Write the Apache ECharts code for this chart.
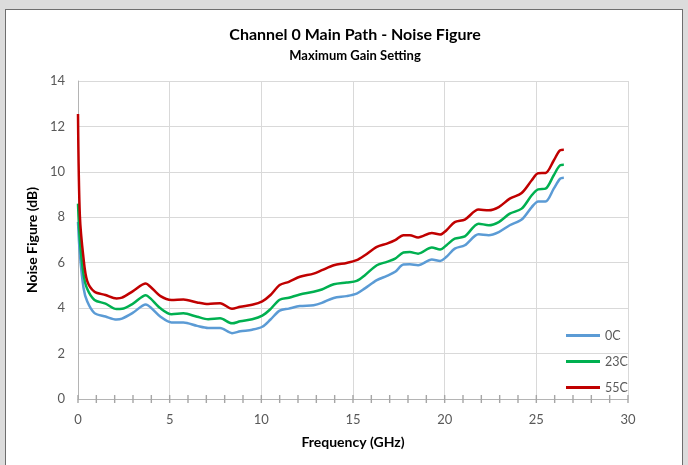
<!DOCTYPE html>
<html>
<head>
<meta charset="utf-8">
<script src="https://cdn.jsdelivr.net/npm/echarts@6/dist/echarts.min.js"></script>
<style>
  html, body { margin: 0; padding: 0; background: #dcdcdc; overflow: hidden; }
  #wrap { position: relative; width: 688px; height: 465px; }
  #frame {
    position: absolute; left: 5px; top: 9px; width: 678px; height: 470px;
    background: #ffffff; border: 1.5px solid #6e6e6e; box-sizing: border-box;
  }
  #chart { position: absolute; left: 0; top: 0; width: 688px; height: 465px; }
</style>
</head>
<body>
<div id="wrap">
  <div id="frame"></div>
  <div id="chart"></div>
</div>
<script>
// Frequency sweep points (GHz)
const freq = [0, 0.1, 0.3, 0.5, 0.9, 1.5, 2.1, 2.4, 3.0, 3.7, 3.95, 4.5, 5.1, 5.75, 6.5, 7.1, 7.75, 8.4, 8.85, 9.5,
  10.05, 10.5, 11.0, 11.5, 12.1, 12.85, 13.3, 13.95, 14.65, 15.2, 15.65, 16.3, 16.85, 17.3, 17.75, 18.1, 18.55,
  19.3, 19.75, 20.1, 20.55, 21.1, 21.85, 22.4, 22.95, 23.55, 24.2, 24.75, 25.1, 25.5, 25.95, 26.3, 26.5];

// Noise figure (dB) per temperature
const nf0C = [7.8, 6.4, 4.9, 4.3, 3.78, 3.63, 3.5, 3.54, 3.8, 4.16, 4.04, 3.62, 3.37, 3.37, 3.22, 3.13, 3.13, 2.9, 2.98, 3.05,
  3.18, 3.5, 3.89, 3.98, 4.09, 4.13, 4.23, 4.45, 4.53, 4.64, 4.87, 5.23, 5.42, 5.6, 5.92, 5.93, 5.89,
  6.14, 6.08, 6.26, 6.62, 6.77, 7.25, 7.21, 7.35, 7.65, 7.9, 8.45, 8.7, 8.7, 9.26, 9.7, 9.74];
const nf23C = [8.6, 7.0, 5.5, 4.85, 4.36, 4.2, 3.96, 3.97, 4.2, 4.57, 4.43, 3.99, 3.73, 3.77, 3.62, 3.51, 3.55, 3.33, 3.42, 3.51,
  3.67, 3.96, 4.37, 4.46, 4.6, 4.72, 4.82, 5.05, 5.13, 5.2, 5.45, 5.89, 6.04, 6.18, 6.45, 6.47, 6.4,
  6.67, 6.58, 6.77, 7.06, 7.16, 7.72, 7.65, 7.79, 8.16, 8.38, 8.97, 9.23, 9.26, 9.85, 10.29, 10.31];
const nf55C = [12.55, 8.1, 6.2, 5.2, 4.72, 4.58, 4.43, 4.46, 4.75, 5.08, 4.94, 4.53, 4.36, 4.38, 4.25, 4.18, 4.22, 3.97, 4.06, 4.15,
  4.3, 4.58, 5.02, 5.16, 5.38, 5.52, 5.67, 5.89, 5.99, 6.11, 6.33, 6.7, 6.84, 6.99, 7.21, 7.21, 7.11,
  7.31, 7.24, 7.43, 7.79, 7.9, 8.34, 8.31, 8.45, 8.82, 9.07, 9.63, 9.94, 9.95, 10.5, 10.95, 10.97];

// Tick marks along the frequency axis (GHz), every 1 GHz
const xTickMarks = [0, 1, 2, 3, 4, 5, 6, 7, 8, 9, 10, 11, 12, 13, 14, 15, 16, 17, 18, 19, 20,
  21, 22, 23, 24, 25, 26, 27, 28, 29, 30];

const seriesNames = ['0C', '23C', '55C'];
const seriesValues = [nf0C, nf23C, nf55C];
const seriesColors = ['#5b9bd5', '#00b050', '#c00000'];

const titleText = 'Channel 0 Main Path - Noise Figure';
const subtitleText = 'Maximum Gain Setting';
const xName = 'Frequency (GHz)';
const yName = 'Noise Figure (dB)';

const FONT = 'Lato, "Liberation Sans", sans-serif';
const labelColor = '#595959';
const axisColor = '#b4b4b4';
const tickColor = '#a6a6a6';

const chart = echarts.init(document.getElementById('chart'), null, { renderer: 'canvas' });

const lineSeries = seriesNames.map((name, i) => ({
  name: name,
  type: 'line',
  data: freq.map((f, k) => [f, seriesValues[i][k]]),
  symbol: 'none',
  smooth: 0.3,
  color: seriesColors[i],
  lineStyle: { width: 2.5, color: seriesColors[i] },
  z: 3 + i
}));

// short grey marks crossing the x axis line
const tickSeries = {
  name: 'ticks',
  type: 'scatter',
  data: xTickMarks.map(t => [t, 0]),
  symbol: 'rect',
  symbolSize: [1.4, 8],
  clip: false,
  silent: true,
  color: tickColor,
  itemStyle: { color: tickColor, opacity: 1 },
  emphasis: { disabled: true },
  z: 2
};

chart.setOption({
  backgroundColor: 'transparent',
  animation: false,
  color: seriesColors,
  title: [{
    text: titleText,
    left: 350, top: 22, textAlign: 'center',
    textStyle: { fontFamily: FONT, fontWeight: 'bold', fontSize: 16, color: '#000' }
  }, {
    text: subtitleText,
    left: 350, top: 44, textAlign: 'center',
    textStyle: { fontFamily: FONT, fontWeight: 'bold', fontSize: 13, color: '#000' }
  }],
  legend: {
    orient: 'vertical',
    left: 561, top: 324,
    icon: 'rect',
    itemWidth: 34, itemHeight: 3, itemGap: 13,
    textStyle: { fontFamily: FONT, fontSize: 12.5, color: labelColor },
    data: seriesNames
  },
  grid: { left: 78, right: 60, top: 81, bottom: 66 },
  xAxis: {
    type: 'value',
    min: 0, max: 30, interval: 5,
    name: xName,
    nameLocation: 'middle',
    nameGap: 36,
    nameTextStyle: { fontFamily: FONT, fontWeight: 'bold', fontSize: 14, color: '#000' },
    axisLine: { show: true, onZero: false, lineStyle: { color: axisColor, width: 1 } },
    axisTick: { show: false },
    axisLabel: { fontFamily: FONT, fontSize: 13, color: labelColor, margin: 14 },
    splitLine: { show: true, lineStyle: { color: '#d9d9d9', width: 1 } }
  },
  yAxis: {
    type: 'value',
    min: 0, max: 14, interval: 2,
    name: yName,
    nameLocation: 'middle',
    nameGap: 38,
    nameRotate: 90,
    nameTextStyle: { fontFamily: FONT, fontWeight: 'bold', fontSize: 14, color: '#000' },
    axisLine: { show: true, onZero: false, lineStyle: { color: axisColor, width: 1 } },
    axisTick: { show: false },
    axisLabel: { fontFamily: FONT, fontSize: 13, color: labelColor, margin: 13 },
    splitLine: { show: true, lineStyle: { color: '#d9d9d9', width: 1 } }
  },
  series: [tickSeries].concat(lineSeries)
});
</script>
</body>
</html>
